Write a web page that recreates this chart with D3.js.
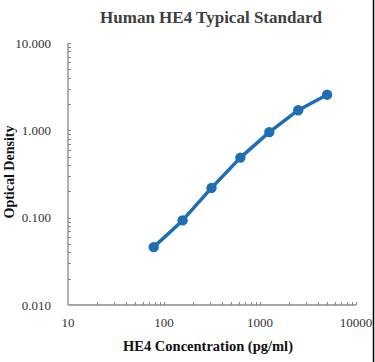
<!DOCTYPE html>
<html>
<head>
<meta charset="utf-8">
<script src="https://cdn.jsdelivr.net/npm/d3@7"></script>
<style>
  body { margin: 0; background: #fff; }
  svg { display: block; }
</style>
</head>
<body>
<svg width="375" height="362"></svg>
<script>
// standard curve points
var conc = [78.125, 156.25, 312.5, 625, 1250, 2500, 5000]
var od = [0.046, 0.093, 0.219, 0.487, 0.955, 1.70, 2.56]
var xTicks = [10, 100, 1000, 10000]
var yTicks = [0.01, 0.1, 1, 10]

var svg = d3.select('svg')
var margin = {left: 68, right: 19, top: 43, bottom: 57}
var width = 375, height = 362

var x = d3.scaleLog()
  .domain([10, 10000])
  .range([margin.left, width - margin.right])
var y = d3.scaleLog()
  .domain([0.01, 10])
  .range([height - margin.bottom, margin.top])

var serif = '"Liberation Serif", "Times New Roman", serif'

// minor ticks inside the plot
var minorX = []
for (var e = 10; e < 10000; e *= 10)
  for (var k = 2; k <= 10; k++) minorX.push(e * k)
var minorY = []
for (var e2 = 0.01; e2 < 9; e2 *= 10)
  for (var k2 = 2; k2 <= 10; k2++) minorY.push(e2 * k2)

svg.append('g')
  .attr('stroke', '#888')
  .attr('stroke-width', 1)
  .selectAll('line.mx')
  .data(minorX)
  .enter().append('line')
  .attr('x1', d => Math.round(x(d)) + 0.5)
  .attr('x2', d => Math.round(x(d)) + 0.5)
  .attr('y1', y(0.01))
  .attr('y2', y(0.01) - 3)

svg.append('g')
  .attr('stroke', '#888')
  .attr('stroke-width', 1)
  .selectAll('line.my')
  .data(minorY)
  .enter().append('line')
  .attr('y1', d => Math.round(y(d)) + 0.5)
  .attr('y2', d => Math.round(y(d)) + 0.5)
  .attr('x1', x(10))
  .attr('x2', x(10) + 3)

// axis lines
svg.append('line')
  .attr('x1', x(10)).attr('x2', x(10))
  .attr('y1', y(10)).attr('y2', y(0.01))
  .attr('stroke', '#888').attr('stroke-width', 1.3)
svg.append('line')
  .attr('x1', x(10)).attr('x2', x(10000))
  .attr('y1', y(0.01)).attr('y2', y(0.01))
  .attr('stroke', '#888').attr('stroke-width', 1.3)

// tick labels
svg.append('g')
  .selectAll('text')
  .data(xTicks)
  .enter().append('text')
  .attr('x', d => x(d))
  .attr('y', y(0.01) + 22)
  .attr('text-anchor', 'middle')
  .style('font', '13px ' + serif)
  .attr('fill', '#333')
  .text(d => d)

svg.append('g')
  .selectAll('text')
  .data(yTicks)
  .enter().append('text')
  .attr('x', x(10) - 17)
  .attr('y', d => y(d) + 4.5)
  .attr('text-anchor', 'end')
  .style('font', '13px ' + serif)
  .attr('fill', '#333')
  .text(d => d3.format('.3f')(d))

// line + points
var line = d3.line()
  .x((d, i) => x(conc[i]))
  .y(d => y(d))

svg.append('path')
  .datum(od)
  .attr('fill', 'none')
  .attr('stroke', '#1f6db5')
  .attr('stroke-width', 3.5)
  .attr('stroke-linejoin', 'round')
  .attr('d', line)

svg.append('g')
  .selectAll('circle')
  .data(od)
  .enter().append('circle')
  .attr('cx', (d, i) => x(conc[i]))
  .attr('cy', d => y(d))
  .attr('r', 5.2)
  .attr('fill', '#1f6db5')

// titles
svg.append('text')
  .attr('x', 211)
  .attr('y', 23)
  .attr('text-anchor', 'middle')
  .style('font', 'bold 17px ' + serif)
  .attr('fill', '#404040')
  .text('Human HE4 Typical Standard')

svg.append('text')
  .attr('x', 208)
  .attr('y', 351)
  .attr('text-anchor', 'middle')
  .style('font', 'bold 14.5px ' + serif)
  .attr('fill', '#111')
  .text('HE4 Concentration (pg/ml)')

svg.append('text')
  .attr('transform', 'translate(14,' + 172 + ') rotate(-90)')
  .attr('text-anchor', 'middle')
  .style('font', 'bold 14px ' + serif)
  .attr('fill', '#111')
  .text('Optical Density')

// right frame edge
svg.append('line')
  .attr('x1', 373.5).attr('x2', 373.5)
  .attr('y1', 0).attr('y2', height)
  .attr('stroke', '#000').attr('stroke-width', 1.5)
</script>
</body>
</html>
